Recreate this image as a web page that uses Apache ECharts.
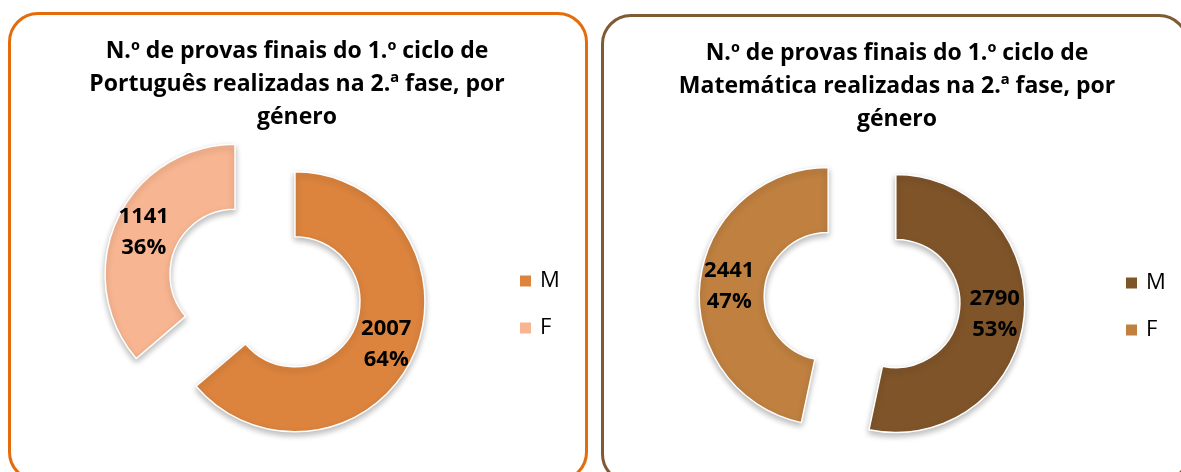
<!DOCTYPE html>
<html>
<head>
<meta charset="utf-8">
<script src="https://cdn.jsdelivr.net/npm/echarts@6/dist/echarts.min.js"></script>
<style>
  html, body { margin: 0; padding: 0; background: #fff; overflow: hidden; }
  body { width: 1181px; height: 472px; position: relative; }
  .panel { position: absolute; box-sizing: border-box; border-radius: 30px; }
  .chart { position: absolute; top: 0; height: 472px; }
</style>
</head>
<body>
<div class="panel" style="left:8px;top:12px;width:580px;height:470px;border:3px solid #E46C0A;"></div>
<div class="panel" style="left:601px;top:14px;width:588px;height:470px;border:3px solid #7F5A35;"></div>
<div id="left" class="chart" style="left:0;width:594px;"></div>
<div id="right" class="chart" style="left:594px;width:606px;"></div>
<script>
// dados
const generos = ['M', 'F']
const portugues = [2007, 1141]
const matematica = [2790, 2441]
const titulos = [
  'N.º de provas finais do 1.º ciclo de\nPortuguês realizadas na 2.ª fase, por\ngénero',
  'N.º de provas finais do 1.º ciclo de\nMatemática realizadas na 2.ª fase, por\ngénero'
]

const fonte = '"Open Sans", "Noto Sans", sans-serif'

function buildOption(titulo, valores, cores, cfg) {
  return {
    animation: false,
    color: cores,
    title: {
      text: titulo,
      left: 'center',
      top: cfg.titleTop,
      textStyle: {
        fontFamily: fonte,
        fontSize: 23,
        fontWeight: 'bold',
        color: '#000',
        lineHeight: 33
      }
    },
    legend: {
      orient: 'vertical',
      left: cfg.legendLeft,
      top: cfg.legendTop,
      padding: 0,
      icon: 'rect',
      itemWidth: 13,
      itemHeight: 13,
      itemGap: 25,
      selectedMode: false,
      textStyle: {
        fontFamily: fonte,
        fontSize: 22,
        color: '#000',
        lineHeight: 22,
        padding: [0, 0, 0, 3]
      },
      data: generos
    },
    series: [{
      type: 'pie',
      center: cfg.center,
      radius: cfg.radius,
      startAngle: 90,
      clockwise: true,
      selectedMode: 'multiple',
      selectedOffset: cfg.offset,
      percentPrecision: 0,
      emphasis: { disabled: true },
      itemStyle: {
        borderColor: '#fff',
        borderWidth: 1.5,
        shadowBlur: 6,
        shadowOffsetY: 3,
        shadowColor: 'rgba(0,0,0,0.28)'
      },
      select: {
        itemStyle: {
          borderColor: '#fff',
          borderWidth: 1.5
        }
      },
      label: {
        show: true,
        position: 'inside',
        formatter: '{c}\n{d}%',
        fontFamily: fonte,
        fontSize: 22,
        fontWeight: 'bold',
        color: '#000',
        lineHeight: 31
      },
      labelLine: { show: false },
      data: generos.map((g, i) => ({ name: g, value: valores[i], selected: true }))
    }]
  }
}

const chartL = echarts.init(document.getElementById('left'))
chartL.setOption(buildOption(titulos[0], portugues, ['#DC843E', '#F8B591'], {
  titleTop: 30,
  legendLeft: 518,
  legendTop: 270,
  center: [265, 288],
  radius: [65, 130],
  offset: 33
}))

const chartR = echarts.init(document.getElementById('right'))
chartR.setOption(buildOption(titulos[1], matematica, ['#7F5429', '#BF8040'], {
  titleTop: 32,
  legendLeft: 530,
  legendTop: 272,
  center: [268, 300],
  radius: [64, 129],
  offset: 34
}))
</script>
</body>
</html>
